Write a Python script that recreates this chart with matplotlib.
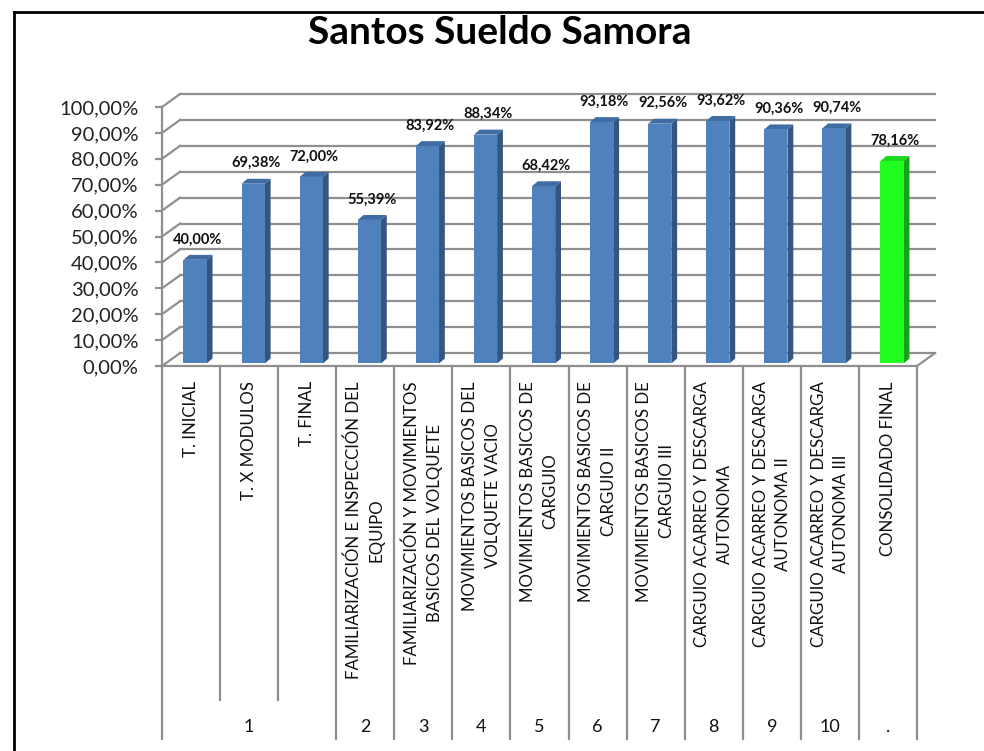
"""Santos Sueldo Samora: pseudo-3D column chart of training scores."""

import matplotlib

matplotlib.use("Agg")
import matplotlib.pyplot as plt
from matplotlib.lines import Line2D
from matplotlib.patches import Polygon

categories = [
    "T. INICIAL",
    "T. X MODULOS",
    "T. FINAL",
    "FAMILIARIZACIÓN E INSPECCIÓN DEL\nEQUIPO",
    "FAMILIARIZACIÓN Y MOVIMIENTOS\nBASICOS DEL VOLQUETE",
    "MOVIMIENTOS BASICOS DEL\nVOLQUETE VACIO",
    "MOVIMIENTOS BASICOS DE\nCARGUIO",
    "MOVIMIENTOS BASICOS DE\nCARGUIO II",
    "MOVIMIENTOS BASICOS DE\nCARGUIO III",
    "CARGUIO ACARREO Y DESCARGA\nAUTONOMA",
    "CARGUIO ACARREO Y DESCARGA\nAUTONOMA II",
    "CARGUIO ACARREO Y DESCARGA\nAUTONOMA III",
    "CONSOLIDADO FINAL",
]
values = [40.00, 69.38, 72.00, 55.39, 83.92, 88.34, 68.42, 93.18, 92.56, 93.62, 90.36, 90.74, 78.16]
value_labels = ["40,00%", "69,38%", "72,00%", "55,39%", "83,92%", "88,34%", "68,42%",
                "93,18%", "92,56%", "93,62%", "90,36%", "90,74%", "78,16%"]
groups = ["1", "2", "3", "4", "5", "6", "7", "8", "9", "10", "."]
group_sizes = [3, 1, 1, 1, 1, 1, 1, 1, 1, 1, 1]
tick_values = [0, 10, 20, 30, 40, 50, 60, 70, 80, 90, 100]
tick_labels = ["0,00%", "10,00%", "20,00%", "30,00%", "40,00%", "50,00%", "60,00%",
               "70,00%", "80,00%", "90,00%", "100,00%"]

FONT = "Lato"
GRID = "#8f8f8f"
W, H = 984, 751

# projection of the depth axis, in data units
WALL_DX, WALL_DY = 0.31, 5.0
BAR_X0, BAR_Y0 = 0.07, 1.0
BAR_DX, BAR_DY = 0.10, 1.9
BAR_W = 0.40

fig = plt.figure(figsize=(W / 100, H / 100), dpi=100)
ax = fig.add_axes([162 / W, (H - 366) / H, (917 - 162) / W, (366 - 107) / H])
n = len(categories)
ax.set_xlim(0, n)
ax.set_ylim(0, 100)
ax.patch.set_visible(False)
for side in ["top", "right", "bottom"]:
    ax.spines[side].set_visible(False)
ax.spines["left"].set_color(GRID)
ax.spines["left"].set_linewidth(1.6)
ax.set_xticks([])
ax.set_yticks(tick_values)
ax.set_yticklabels(tick_labels, fontsize=14.5, family=FONT, color="#222222")
ax.tick_params(axis="y", length=5, width=1.6, color=GRID, pad=12)

# back wall gridlines and left wall diagonals
for v in tick_values:
    ax.add_line(Line2D([WALL_DX, n + WALL_DX], [v + WALL_DY, v + WALL_DY],
                       color=GRID, lw=1.6, clip_on=False, zorder=1))
    ax.add_line(Line2D([0, WALL_DX], [v, v + WALL_DY],
                       color=GRID, lw=1.6, clip_on=False, zorder=1))
# floor front and right edges
ax.add_line(Line2D([0, n], [0, 0], color=GRID, lw=1.6, clip_on=False, zorder=1))
ax.add_line(Line2D([n, n + WALL_DX], [0, WALL_DY], color=GRID, lw=1.6, clip_on=False, zorder=1))

# bars
for i, v in enumerate(values):
    last = i == n - 1
    front_c, side_c, top_c = (("#21ff21", "#17a317", "#1bd81b") if last
                              else ("#4f81bd", "#34557f", "#3e6ca3"))
    x0 = i + 0.5 - BAR_W / 2 + BAR_X0
    x1 = x0 + BAR_W
    y0 = BAR_Y0
    y1 = v + BAR_Y0
    ax.add_patch(Polygon([[x1, y0], [x1 + BAR_DX, y0 + BAR_DY], [x1 + BAR_DX, y1 + BAR_DY], [x1, y1]],
                         closed=True, fc=side_c, ec="none", zorder=3, clip_on=False))
    ax.add_patch(Polygon([[x0, y1], [x1, y1], [x1 + BAR_DX, y1 + BAR_DY], [x0 + BAR_DX, y1 + BAR_DY]],
                         closed=True, fc=top_c, ec="none", zorder=3, clip_on=False))
    ax.add_patch(Polygon([[x0, y0], [x1, y0], [x1, y1], [x0, y1]],
                         closed=True, fc=front_c, ec="none", zorder=4, clip_on=False))
    ax.text((x0 + x1 + BAR_DX) / 2, y1 + BAR_DY + 3.3, value_labels[i],
            ha="center", va="bottom", fontsize=10.5, fontweight="bold",
            family=FONT, color="#111111", clip_on=False)

# category labels (rotated) below the floor
for i, label in enumerate(categories):
    ax.text(i + 0.5, -5.8, label, rotation=90, ha="center", va="top",
            multialignment="center", fontsize=12.2, family=FONT, color="#111111",
            linespacing=1.5, clip_on=False)

# hierarchical category dividers and group labels
start = 0
for g, size in zip(groups, group_sizes):
    ax.add_line(Line2D([start, start], [0, -144], color=GRID, lw=1.6, clip_on=False))
    for k in range(1, size):
        ax.add_line(Line2D([start + k, start + k], [0, -129], color=GRID, lw=1.6, clip_on=False))
    ax.text(start + size / 2, -139.5, g, ha="center", va="center", fontsize=13,
            family=FONT, color="#111111", clip_on=False)
    start += size
ax.add_line(Line2D([start, start], [0, -144], color=GRID, lw=1.6, clip_on=False))

# title
fig.text(500 / W, 1 - 33 / H, "Santos Sueldo Samora", ha="center", va="center",
         fontsize=28, fontweight="bold", family=FONT, color="#000000")

# chart border (cropped on the right and bottom)
fig.add_artist(Line2D([13.5 / W, 13.5 / W], [0, 1 - 12 / H], color="black", lw=2, transform=fig.transFigure))
fig.add_artist(Line2D([13.5 / W, 1], [1 - 12 / H, 1 - 12 / H], color="black", lw=2, transform=fig.transFigure))

fig.savefig("out.png", dpi=100)
